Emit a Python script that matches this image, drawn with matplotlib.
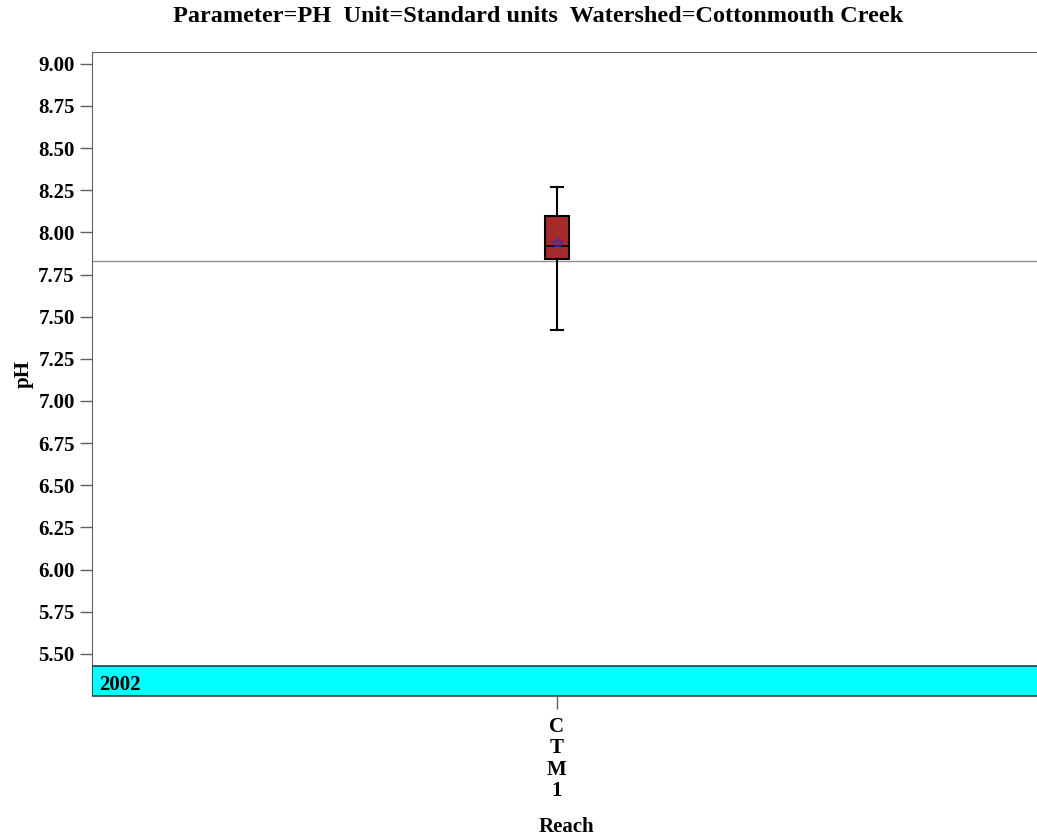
import matplotlib
matplotlib.use("Agg")
import matplotlib.pyplot as plt

# data
reaches = ["CTM1"]
q1 = [7.84]
median = [7.92]
q3 = [8.10]
whisker_lo = [7.42]
whisker_hi = [8.27]
means = [7.94]
ref_level = 7.83
year_label = "2002"
yticks = [5.50, 5.75, 6.00, 6.25, 6.50, 6.75, 7.00, 7.25, 7.50, 7.75,
          8.00, 8.25, 8.50, 8.75, 9.00]

plt.rcParams["font.family"] = ["Liberation Serif", "DejaVu Serif"]
plt.rcParams["font.weight"] = "bold"

fig = plt.figure(figsize=(10.37, 8.4), dpi=100)
ax = fig.add_axes([92 / 1037, 144 / 840, 0.915, 644 / 840])

stats = []
for i, r in enumerate(reaches):
    stats.append({
        "label": "\n".join(r),
        "q1": q1[i], "med": median[i], "q3": q3[i],
        "whislo": whisker_lo[i], "whishi": whisker_hi[i],
        "mean": means[i], "fliers": [],
    })

positions = list(range(1, len(reaches) + 1))
ax.bxp(stats, positions=positions, widths=0.052, patch_artist=True,
       showmeans=True, showfliers=False,
       boxprops=dict(facecolor="#A52A2A", edgecolor="black", linewidth=1.5),
       medianprops=dict(color="black", linewidth=1.2),
       whiskerprops=dict(color="black", linewidth=1.5),
       capprops=dict(color="black", linewidth=1.5),
       capwidths=0.025,
       meanprops=dict(marker="*", markersize=9, markerfacecolor="none",
                      markeredgecolor="#3030c0", markeredgewidth=0.8))

ax.axhline(ref_level, color="#909090", linewidth=1, zorder=0)

ax.set_xlim(0, 2.041)
ax.set_ylim(5.25, 9.07)
ax.set_yticks(yticks)
ax.set_yticklabels([f"{v:.2f}" for v in yticks])

# year band at the bottom of the panel
ax.axhspan(5.25, 5.43, facecolor="cyan", edgecolor="#1a4040", linewidth=1.2, zorder=3)
ax.text(8 / 1037, 5.315, year_label, transform=ax.get_yaxis_transform(),
        fontsize=15, fontweight="bold", va="center", ha="left", zorder=4)

for side in ["left", "top", "bottom"]:
    ax.spines[side].set_color("#606060")
ax.spines["right"].set_visible(False)
ax.tick_params(axis="both", colors="#606060", length=9, width=1,
               labelcolor="black", labelsize=15)
ax.tick_params(axis="x", pad=6)
for lbl in ax.get_xticklabels():
    lbl.set_linespacing(1.1)

ax.set_ylabel("pH", fontsize=15, fontweight="bold", labelpad=3)
ax.set_xlabel("Reach", fontsize=15, fontweight="bold", labelpad=11)
fig.suptitle("Parameter=PH  Unit=Standard units  Watershed=Cottonmouth Creek",
             fontsize=17.5, fontweight="bold", x=538 / 1037, y=1 - 17 / 840, va="center")

fig.savefig("out.png", dpi=100)
